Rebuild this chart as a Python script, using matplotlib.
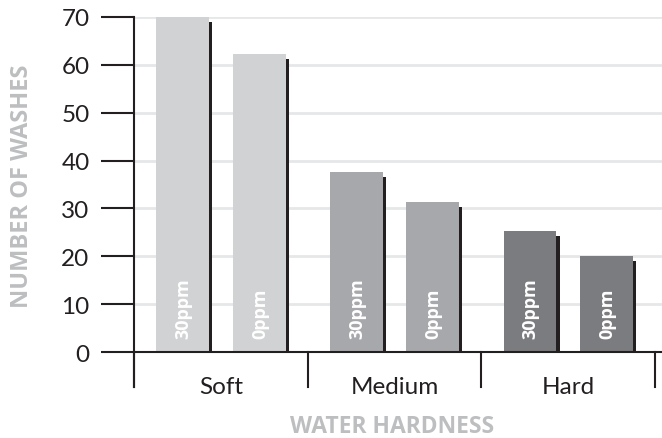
import matplotlib.pyplot as plt

# data
hardness = ["Soft", "Medium", "Hard"]
washes_30ppm = [70, 37.6, 25.3]
washes_0ppm = [62.3, 31.3, 20.1]
bar_labels = ["30ppm", "0ppm"]
colors = ["#d1d2d4", "#a7a8ab", "#7b7c7f"]
yticks = [0, 10, 20, 30, 40, 50, 60, 70]

plt.rcParams['font.family'] = ['Lato', 'DejaVu Sans']
bold_font = ['Open Sans', 'DejaVu Sans']

fig = plt.figure(figsize=(6.62, 4.39), dpi=100)
ax = fig.add_axes([134 / 662, 1 - 388 / 439, 528 / 662, 370 / 439])

ymin = -7.3
ax.set_ylim(ymin, 70)
ax.set_xlim(-0.5, 2.54)

# grid lines
for t in yticks[1:]:
    ax.axhline(t, color="#e6e7e8", lw=2, zorder=0)

width = 0.305
off = 0.22
shift = 0.018  # shadow offset
for i, cat in enumerate(hardness):
    for j, vals in enumerate([washes_30ppm, washes_0ppm]):
        x = i - off if j == 0 else i + off
        v = vals[i]
        ax.bar(x + shift, v - 1.05, width=width, color="#231f20", zorder=2)
        ax.bar(x, v, width=width, color=colors[i], zorder=3)
        ax.text(x + 0.005, 3.0, bar_labels[j], rotation=90, ha="center", va="bottom",
                color="white", fontsize=13, fontweight="bold", family=bold_font, zorder=4)

# x axis line and category separators
ax.axhline(0, color="#231f20", lw=1.5, zorder=5)
for s in [-0.5, 0.5, 1.5, 2.5]:
    ax.plot([s, s], [ymin, 0], color="#231f20", lw=1.5, clip_on=False, zorder=5)
for i, cat in enumerate(hardness):
    ax.text(i, -8.55, cat, ha="center", va="baseline", fontsize=17.5, color="#231f20")

ax.set_xticks([])
ax.set_yticks(yticks)
ax.set_yticklabels([str(t) for t in yticks], fontsize=17.5, color="#231f20")
ax.tick_params(axis="y", length=24, width=1.5, color="#231f20", pad=8)
for sp in ["top", "right", "bottom"]:
    ax.spines[sp].set_visible(False)
ax.spines["left"].set_color("#231f20")
ax.spines["left"].set_linewidth(1.5)

fig.text(22 / 662, 1 - 186 / 439, "NUMBER OF WASHES", rotation=90, ha="center", va="center",
         fontsize=17, fontweight="bold", family=bold_font, color="#bcbec0")
fig.text(392 / 662, 1 - 427 / 439, "WATER HARDNESS", ha="center", va="center",
         fontsize=16.5, fontweight="bold", family=bold_font, color="#bcbec0")

fig.savefig("out.png", dpi=100)
